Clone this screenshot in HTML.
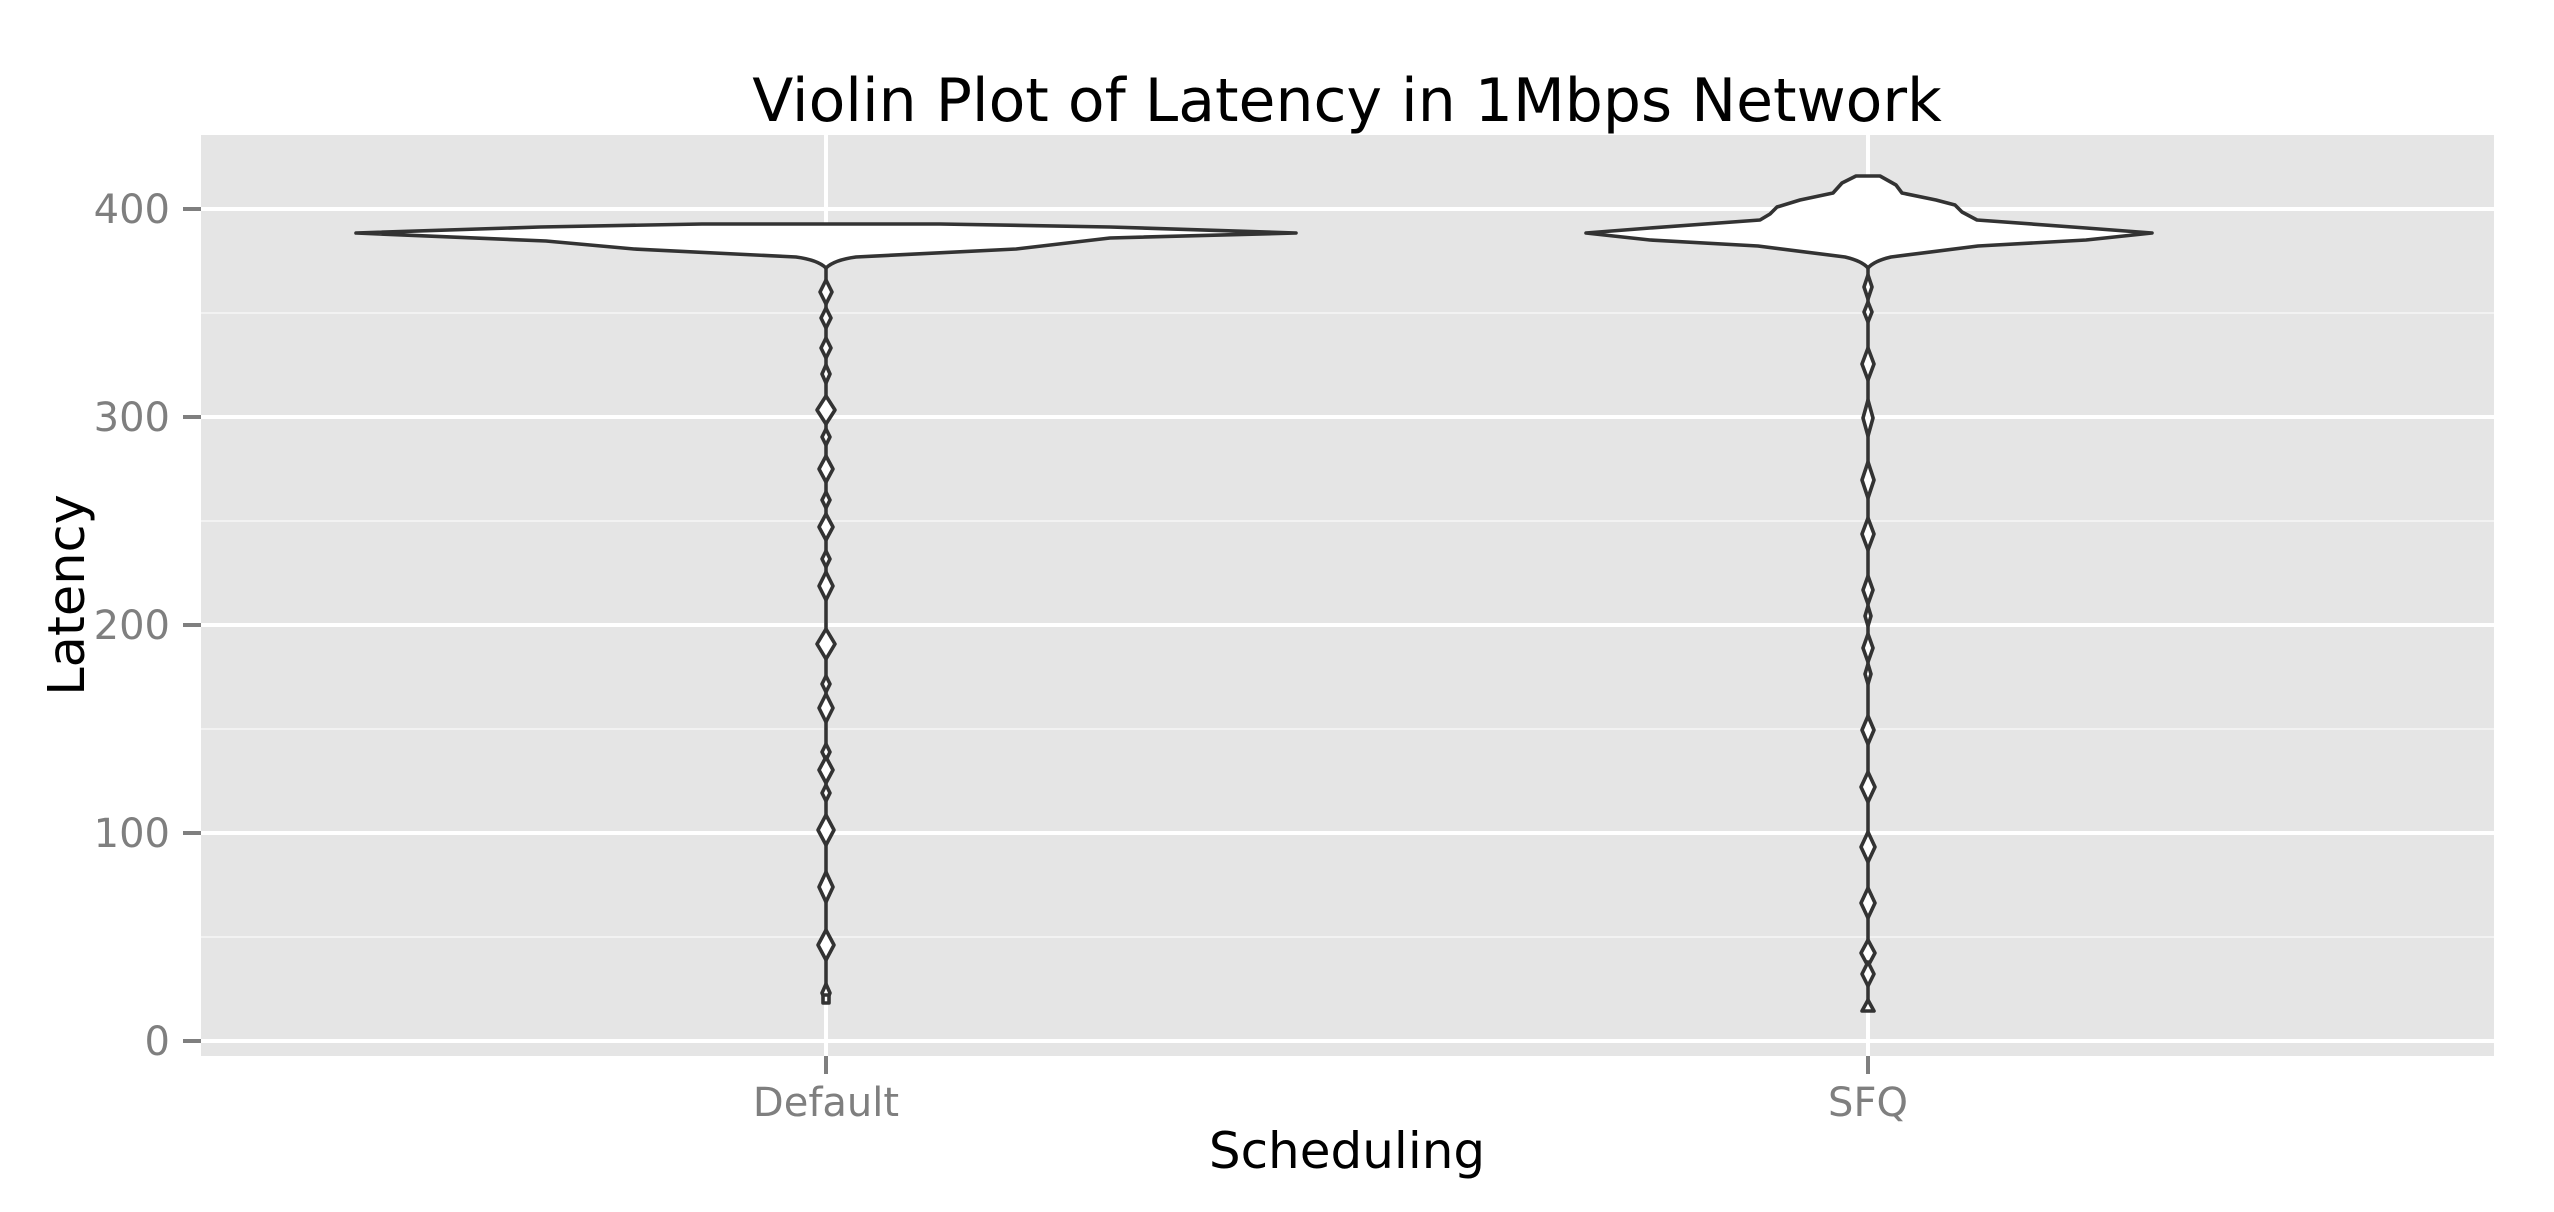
<!DOCTYPE html>
<html><head><meta charset="utf-8"><style>
html,body{margin:0;padding:0;background:#fff;}
svg{display:block;}
</style></head><body>
<svg width="2554" height="1212" viewBox="0 0 2554 1212" xmlns="http://www.w3.org/2000/svg" font-family="'DejaVu Sans','Liberation Sans',sans-serif">
<rect x="0" y="0" width="2554" height="1212" fill="#fff"/>
<rect x="201" y="135" width="2293" height="921" fill="#e5e5e5"/>
<g stroke="#f2f2f2" stroke-width="2">
<line x1="201" x2="2494" y1="937" y2="937"/><line x1="201" x2="2494" y1="729" y2="729"/>
<line x1="201" x2="2494" y1="521" y2="521"/><line x1="201" x2="2494" y1="313" y2="313"/>
</g>
<g stroke="#fff" stroke-width="4">
<line x1="201" x2="2494" y1="1041" y2="1041"/><line x1="201" x2="2494" y1="833" y2="833"/>
<line x1="201" x2="2494" y1="625" y2="625"/><line x1="201" x2="2494" y1="417" y2="417"/>
<line x1="201" x2="2494" y1="209" y2="209"/>
<line x1="826" x2="826" y1="135" y2="1056"/><line x1="1868" x2="1868" y1="135" y2="1056"/>
</g>
<g stroke="#7f7f7f" stroke-width="4">
<line x1="183" x2="201" y1="1041" y2="1041"/><line x1="183" x2="201" y1="833" y2="833"/>
<line x1="183" x2="201" y1="625" y2="625"/><line x1="183" x2="201" y1="417" y2="417"/>
<line x1="183" x2="201" y1="209" y2="209"/>
<line x1="826" x2="826" y1="1056" y2="1074"/><line x1="1868" x2="1868" y1="1056" y2="1074"/>
</g>
<g fill="#7f7f7f" font-size="40" text-anchor="end">
<text x="170" y="1055">0</text><text x="170" y="847">100</text><text x="170" y="639">200</text>
<text x="170" y="431">300</text><text x="170" y="223">400</text>
</g>
<g fill="#7f7f7f" font-size="40" text-anchor="middle">
<text x="826" y="1116">Default</text><text x="1868" y="1116">SFQ</text>
</g>
<text x="1347" y="121" font-size="60" text-anchor="middle" fill="#000">Violin Plot of Latency in 1Mbps Network</text>
<text x="1347" y="1168" font-size="50" text-anchor="middle" fill="#000">Scheduling</text>
<text transform="translate(84,595) rotate(-90)" font-size="51" text-anchor="middle" fill="#000">Latency</text>

<g stroke="#333" stroke-width="3.6" fill="#fff" stroke-linejoin="round">
<line x1="826" y1="263" x2="826" y2="1003"/>
<line x1="1868" y1="265" x2="1868" y2="1011"/>
<path d="M356,233 L540,227 L702,224 L940,224 L1110,227 L1296,233 L1110,238 L1016,249 L856,257 Q834,260 826,268 Q818,260 796,257 L634,249 L546,241 Z"/>
<path d="M1586,233 L1650,228 L1760,220 L1770,214 L1777,207 L1800,200 L1833,193 L1842,183 L1856,176 L1880,176 L1896,185 L1902,193 L1936,200 L1955,205 L1962,212 L1977,220 L2086,228 L2152,233 L2086,240 L1978,246 L1891,257 Q1874,261 1868,268 Q1862,261 1845,257 L1758,246 L1650,240 Z"/>
<path d="M826,280 l6,12 l-6,12 l-6,-12 Z"/>
<path d="M826,308 l5,10 l-5,10 l-5,-10 Z"/>
<path d="M826,338 l5,10 l-5,10 l-5,-10 Z"/>
<path d="M826,365 l4,9 l-4,9 l-4,-9 Z"/>
<path d="M826,396 l9,14 l-9,14 l-9,-14 Z"/>
<path d="M826,429 l4,8 l-4,8 l-4,-8 Z"/>
<path d="M826,456 l7,13 l-7,13 l-7,-13 Z"/>
<path d="M826,492 l4,8 l-4,8 l-4,-8 Z"/>
<path d="M826,514 l7,13 l-7,13 l-7,-13 Z"/>
<path d="M826,551 l4,8 l-4,8 l-4,-8 Z"/>
<path d="M826,572 l7,14 l-7,14 l-7,-14 Z"/>
<path d="M826,629 l9,15 l-9,15 l-9,-15 Z"/>
<path d="M826,676 l4,8 l-4,8 l-4,-8 Z"/>
<path d="M826,694 l7,14 l-7,14 l-7,-14 Z"/>
<path d="M826,744 l4,8 l-4,8 l-4,-8 Z"/>
<path d="M826,757 l7,13 l-7,13 l-7,-13 Z"/>
<path d="M826,785 l4,8 l-4,8 l-4,-8 Z"/>
<path d="M826,815 l8,15 l-8,15 l-8,-15 Z"/>
<path d="M826,872 l7,15 l-7,15 l-7,-15 Z"/>
<path d="M826,930 l8,15 l-8,15 l-8,-15 Z"/>
<path d="M826,984 l4,9 l-4,9 l-4,-9 Z"/>
<rect x="823" y="995" width="6" height="8"/>
<path d="M1868,275 l4,12 l-4,12 l-4,-12 Z"/>
<path d="M1868,302 l4,10 l-4,10 l-4,-10 Z"/>
<path d="M1868,348 l6,16 l-6,16 l-6,-16 Z"/>
<path d="M1868,400 l5,18 l-5,18 l-5,-18 Z"/>
<path d="M1868,462 l6,18 l-6,18 l-6,-18 Z"/>
<path d="M1868,518 l6,16 l-6,16 l-6,-16 Z"/>
<path d="M1868,576 l5,14 l-5,14 l-5,-14 Z"/>
<path d="M1868,606 l3,10 l-3,10 l-3,-10 Z"/>
<path d="M1868,634 l5,14 l-5,14 l-5,-14 Z"/>
<path d="M1868,664 l3,10 l-3,10 l-3,-10 Z"/>
<path d="M1868,716 l6,14 l-6,14 l-6,-14 Z"/>
<path d="M1868,772 l7,15 l-7,15 l-7,-15 Z"/>
<path d="M1868,832 l7,15 l-7,15 l-7,-15 Z"/>
<path d="M1868,888 l7,15 l-7,15 l-7,-15 Z"/>
<path d="M1868,940 l7,13 l-7,13 l-7,-13 Z"/>
<path d="M1868,962 l6,12 l-6,12 l-6,-12 Z"/>
<path d="M1868,1000 l6,11 l-12,0 Z"/>
</g>
</svg>
</body></html>
